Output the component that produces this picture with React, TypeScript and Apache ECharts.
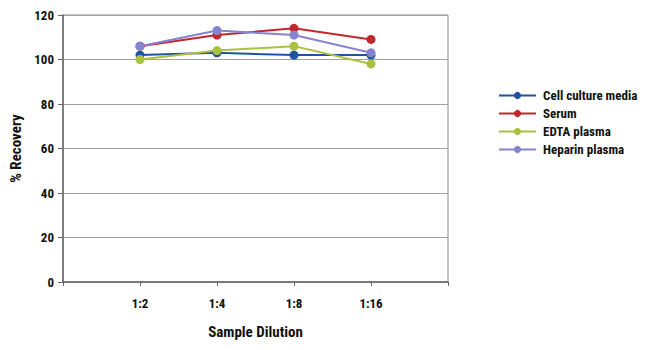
import React, { useEffect, useRef } from "react";
import * as echarts from "echarts";

const categories = ["1:2", "1:4", "1:8", "1:16"];
const cellCulture = [102, 103, 102, 102];
const serum = [106, 111, 114, 109];
const edta = [100, 104, 106, 98];
const heparin = [106, 113, 111, 103];
const seriesNames = ["Cell culture media", "Serum", "EDTA plasma", "Heparin plasma"];
const colors = ["#1f55a0", "#c1272d", "#a9c23f", "#8585cf"];

const FONT = "'Roboto Condensed', 'DejaVu Sans Condensed', Roboto, sans-serif";

export default function App() {
  const ref = useRef<HTMLDivElement>(null);
  useEffect(() => {
    if (!ref.current) return;
    const chart = echarts.init(ref.current, null, { renderer: "svg" });
    const dataSets = [cellCulture, serum, edta, heparin];
    chart.setOption({
      animation: false,
      backgroundColor: "#ffffff",
      color: colors,
      textStyle: { fontFamily: FONT },
      grid: {
        left: 63,
        right: 202,
        top: 15,
        bottom: 68,
        show: true,
        borderColor: "#8a8a8a",
        borderWidth: 1,
      },
      legend: {
        orient: "vertical",
        left: 493,
        top: 84,
        itemWidth: 37,
        itemHeight: 9,
        itemGap: 5,
        textStyle: { fontFamily: FONT, fontWeight: "bold", fontSize: 13, color: "#111", padding: [0, 0, 0, 2] },
        data: seriesNames,
      },
      xAxis: {
        type: "value",
        min: 0,
        max: 5,
        interval: 1,
        name: "Sample Dilution",
        nameLocation: "middle",
        nameGap: 42,
        nameTextStyle: { fontFamily: FONT, fontWeight: "bold", fontSize: 15, color: "#111" },
        axisLine: { show: true, lineStyle: { color: "#666", width: 1.5 } },
        axisTick: { show: true, length: 4, inside: false, lineStyle: { color: "#666" } },
        splitLine: { show: false },
        axisLabel: {
          fontFamily: FONT,
          fontWeight: "bold",
          fontSize: 13,
          color: "#111",
          margin: 15,
          formatter: (v: number) => (v >= 1 && v <= categories.length ? categories[v - 1] : ""),
        },
      },
      yAxis: {
        type: "value",
        min: 0,
        max: 120,
        interval: 20,
        name: "% Recovery",
        nameLocation: "middle",
        nameGap: 40,
        nameTextStyle: { fontFamily: FONT, fontWeight: "bold", fontSize: 15, color: "#111" },
        axisLine: { show: true, lineStyle: { color: "#666", width: 1.5 } },
        axisTick: { show: true, length: 5, lineStyle: { color: "#666" } },
        splitLine: { show: true, lineStyle: { color: "#a0a0a0", width: 1 } },
        axisLabel: { fontFamily: FONT, fontWeight: "bold", fontSize: 13, color: "#111", margin: 9 },
      },
      series: seriesNames.map((name, i) => ({
        name,
        type: "line",
        data: dataSets[i].map((v, j) => [j + 1, v]),
        symbol: "circle",
        symbolSize: 9,
        lineStyle: { width: 2, color: colors[i] },
        itemStyle: { color: colors[i] },
      })),
    });
    return () => chart.dispose();
  }, []);
  return (
    <div
      ref={ref}
      style={{ position: "fixed", left: 0, top: 0, width: 650, height: 350 }}
    />
  );
}
